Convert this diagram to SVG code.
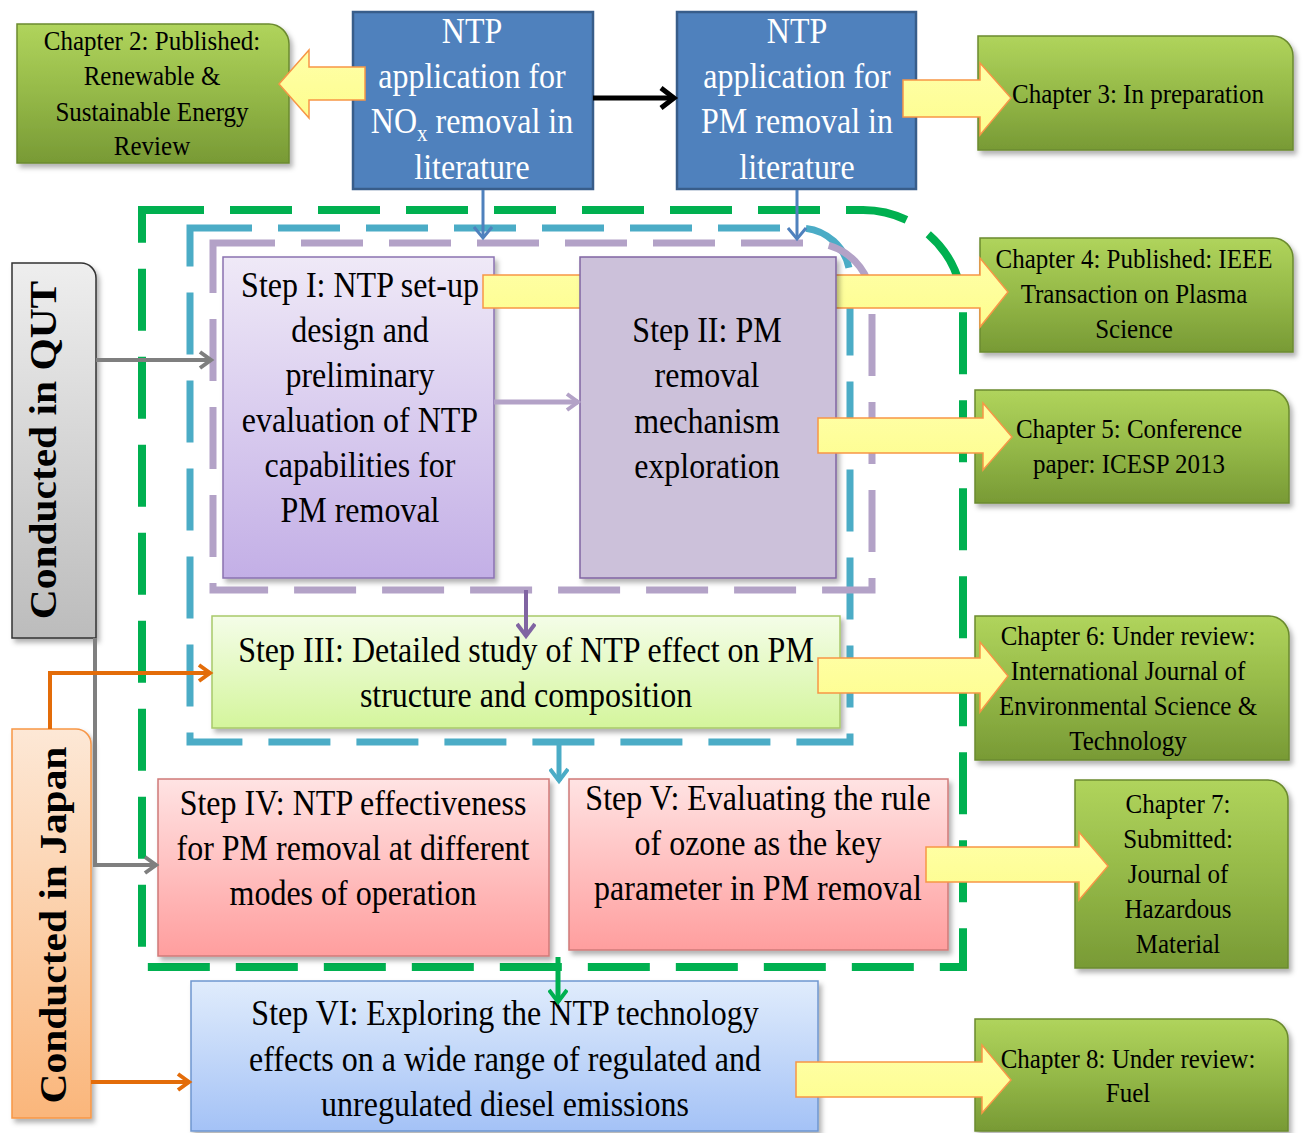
<svg xmlns="http://www.w3.org/2000/svg" width="1303" height="1133" viewBox="0 0 1303 1133">
<defs>
<style>
.t{font-family:"Liberation Serif","Times New Roman",serif;text-anchor:middle;fill:#000}
.s32{font-size:32px}
.c25{font-size:25px}
.w{fill:#fff}
.v{font-size:37px;font-weight:bold}
.chap{fill:url(#gChap);stroke:#6b8a2f;stroke-width:1.5;filter:url(#sh)}
.ya{fill:url(#gYel);stroke:#f79646;stroke-width:1.5}
.dash{fill:none;stroke-dasharray:62 26}
.con{fill:none}
</style>
<filter id="sh" x="-10%" y="-10%" width="125%" height="125%">
<feDropShadow dx="3" dy="4" stdDeviation="2.5" flood-color="#000" flood-opacity="0.3"/>
</filter>
<linearGradient id="gChap" x1="0" y1="0" x2="0" y2="1"><stop offset="0" stop-color="#b0d45c"/><stop offset="0.5" stop-color="#95b948"/><stop offset="1" stop-color="#789a35"/></linearGradient>
<linearGradient id="gQUT" x1="0" y1="0" x2="0" y2="1"><stop offset="0" stop-color="#eeeeee"/><stop offset="1" stop-color="#bcbcbc"/></linearGradient>
<linearGradient id="gJap" x1="0" y1="0" x2="0" y2="1"><stop offset="0" stop-color="#fde8d6"/><stop offset="1" stop-color="#fab67b"/></linearGradient>
<linearGradient id="gS1" x1="0" y1="0" x2="0" y2="1"><stop offset="0" stop-color="#efe9f7"/><stop offset="1" stop-color="#c3afe6"/></linearGradient>
<linearGradient id="gS3" x1="0" y1="0" x2="0" y2="1"><stop offset="0" stop-color="#f4fde8"/><stop offset="1" stop-color="#d4f59c"/></linearGradient>
<linearGradient id="gS45" x1="0" y1="0" x2="0" y2="1"><stop offset="0" stop-color="#ffe3e3"/><stop offset="1" stop-color="#ff9e9e"/></linearGradient>
<linearGradient id="gS6" x1="0" y1="0" x2="0" y2="1"><stop offset="0" stop-color="#e0ecfc"/><stop offset="1" stop-color="#a4c2f6"/></linearGradient>
<linearGradient id="gYel" x1="0" y1="0" x2="0" y2="1"><stop offset="0" stop-color="#ffffa8"/><stop offset="1" stop-color="#fdfd8e"/></linearGradient>
<marker id="ahBlack" viewBox="0 0 24 24" refX="18" refY="12" markerWidth="24" markerHeight="24" markerUnits="userSpaceOnUse" orient="auto"><path d="M5,2 L18,12 L5,22" fill="none" stroke="#000" stroke-width="5"/></marker>
<marker id="ahGray" viewBox="0 0 20 20" refX="16" refY="10" markerWidth="20" markerHeight="20" markerUnits="userSpaceOnUse" orient="auto"><path d="M5,2 L16,10 L5,18" fill="none" stroke="#7f7f7f" stroke-width="4"/></marker>
<marker id="ahOrange" viewBox="0 0 20 20" refX="16" refY="10" markerWidth="20" markerHeight="20" markerUnits="userSpaceOnUse" orient="auto"><path d="M5,2 L16,10 L5,18" fill="none" stroke="#e36c09" stroke-width="4"/></marker>
<marker id="ahLPurple" viewBox="0 0 20 20" refX="16" refY="10" markerWidth="20" markerHeight="20" markerUnits="userSpaceOnUse" orient="auto"><path d="M5,2 L16,10 L5,18" fill="none" stroke="#b3a2c7" stroke-width="4"/></marker>
<marker id="ahPurple" viewBox="0 0 20 20" refX="16" refY="10" markerWidth="20" markerHeight="20" markerUnits="userSpaceOnUse" orient="auto"><path d="M4,1 L16,10 L4,19" fill="none" stroke="#8064a2" stroke-width="4"/></marker>
<marker id="ahTeal" viewBox="0 0 20 20" refX="16" refY="10" markerWidth="20" markerHeight="20" markerUnits="userSpaceOnUse" orient="auto"><path d="M4,1 L16,10 L4,19" fill="none" stroke="#4bacc6" stroke-width="4"/></marker>
<marker id="ahGreen" viewBox="0 0 20 20" refX="16" refY="10" markerWidth="20" markerHeight="20" markerUnits="userSpaceOnUse" orient="auto"><path d="M4,1 L16,10 L4,19" fill="none" stroke="#00b050" stroke-width="4"/></marker>
<marker id="ahBlue" viewBox="0 0 20 20" refX="16" refY="10" markerWidth="20" markerHeight="20" markerUnits="userSpaceOnUse" orient="auto"><path d="M5,1 L16,10 L5,19" fill="none" stroke="#4f81bd" stroke-width="3"/></marker>
</defs>
<rect width="1303" height="1133" fill="#fff"/>

<g id="containers">
<path id="green-box" class="dash" d="M142,210 H863 A100,100 0 0 1 963,310 V967 H142 Z" stroke="#00b050" stroke-width="8"/>
<path id="teal-box" class="dash" d="M190,228 H800 A50,50 0 0 1 850,278 V742 H190 Z" stroke="#4bacc6" stroke-width="7"/>
<path id="purple-box" class="dash" d="M213,243 H812 A60,60 0 0 1 872,303 V590 H213 Z" stroke="#b3a2c7" stroke-width="7"/>
</g>

<g id="nodes">
<g id="qut">
<path d="M12,263 H81 A15,15 0 0 1 96,278 V638 H12 Z" fill="url(#gQUT)" stroke="#333" stroke-width="1.5" filter="url(#sh)"/>
<text class="t v" transform="translate(56,450) scale(1,1.12) rotate(-90)" x="0" y="0">Conducted in QUT</text>
</g>
<g id="japan">
<path d="M12,729 H76 A15,15 0 0 1 91,744 V1118 H12 Z" fill="url(#gJap)" stroke="#f79646" stroke-width="1.5" filter="url(#sh)"/>
<text class="t v" transform="translate(66,925) scale(1,1.12) rotate(-90)" x="0" y="0">Conducted in Japan</text>
</g>
<g id="ntp-nox">
<rect x="353" y="12" width="240" height="177" fill="#4f81bd" stroke="#385d8a" stroke-width="2.5"/>
<text class="t s32 w" transform="translate(472,43) scale(1,1.1)"><tspan x="0" y="0">NTP</tspan><tspan x="0" dy="41">application for</tspan><tspan x="0" dy="41">NO<tspan font-size="21" dy="7">x</tspan><tspan dy="-7"> removal in</tspan></tspan><tspan x="0" dy="42">literature</tspan></text>
</g>
<g id="ntp-pm">
<rect x="677" y="12" width="239" height="177" fill="#4f81bd" stroke="#385d8a" stroke-width="2.5"/>
<text class="t s32 w" transform="translate(797,43) scale(1,1.1)"><tspan x="0" y="0">NTP</tspan><tspan x="0" dy="41">application for</tspan><tspan x="0" dy="41">PM removal in</tspan><tspan x="0" dy="42">literature</tspan></text>
</g>
<g id="chapter2">
<path class="chap" d="M17,24 H269 A20,20 0 0 1 289,44 V163 H17 Z"/>
<text class="t c25" transform="translate(152,50) scale(1,1.1)"><tspan x="0" y="0">Chapter 2: Published:</tspan><tspan x="0" dy="31.8">Renewable  &amp;</tspan><tspan x="0" dy="32.5">Sustainable Energy</tspan><tspan x="0" dy="31">Review</tspan></text>
</g>
<g id="chapter3">
<path class="chap" d="M978,36 H1273 A20,20 0 0 1 1293,56 V150 H978 Z"/>
<text class="t c25" transform="translate(1138,103) scale(1,1.1)"><tspan x="0" y="0">Chapter 3: In preparation</tspan></text>
</g>
<g id="chapter4">
<path class="chap" d="M980,238 H1273 A20,20 0 0 1 1293,258 V352 H980 Z"/>
<text class="t c25" transform="translate(1134,268) scale(1,1.1)"><tspan x="0" y="0">Chapter 4: Published: IEEE</tspan><tspan x="0" dy="31.5">Transaction on Plasma</tspan><tspan x="0" dy="32.5">Science</tspan></text>
</g>
<g id="chapter5">
<path class="chap" d="M975,390 H1269 A20,20 0 0 1 1289,410 V503 H975 Z"/>
<text class="t c25" transform="translate(1129,438) scale(1,1.1)"><tspan x="0" y="0">Chapter 5: Conference</tspan><tspan x="0" dy="31.8">paper: ICESP 2013</tspan></text>
</g>
<g id="chapter6">
<path class="chap" d="M975,616 H1269 A20,20 0 0 1 1289,636 V760 H975 Z"/>
<text class="t c25" transform="translate(1128,645) scale(1,1.1)"><tspan x="0" y="0">Chapter 6: Under review:</tspan><tspan x="0" dy="31.8">International  Journal of</tspan><tspan x="0" dy="31.8">Environmental  Science &amp;</tspan><tspan x="0" dy="31.8">Technology</tspan></text>
</g>
<g id="chapter7">
<path class="chap" d="M1075,780 H1268 A20,20 0 0 1 1288,800 V968 H1075 Z"/>
<text class="t c25" transform="translate(1178,813) scale(1,1.1)"><tspan x="0" y="0">Chapter 7:</tspan><tspan x="0" dy="31.8">Submitted:</tspan><tspan x="0" dy="31.8">Journal of</tspan><tspan x="0" dy="31.8">Hazardous</tspan><tspan x="0" dy="31.8">Material</tspan></text>
</g>
<g id="chapter8">
<path class="chap" d="M975,1019 H1268 A20,20 0 0 1 1288,1039 V1131 H975 Z"/>
<text class="t c25" transform="translate(1128,1068) scale(1,1.1)"><tspan x="0" y="0">Chapter 8: Under review:</tspan><tspan x="0" dy="31">Fuel</tspan></text>
</g>
<g id="step1">
<rect x="223" y="257" width="271" height="321" fill="url(#gS1)" stroke="#8a72b0" stroke-width="1.5" filter="url(#sh)"/>
<text class="t s32" transform="translate(360,297) scale(1,1.1)"><tspan x="0" y="0">Step I: NTP set-up</tspan><tspan x="0" dy="40.9">design and</tspan><tspan x="0" dy="40.9">preliminary</tspan><tspan x="0" dy="40.9">evaluation of NTP</tspan><tspan x="0" dy="40.9">capabilities for</tspan><tspan x="0" dy="40.9">PM removal</tspan></text>
</g>
<g id="step3">
<rect x="212" y="616" width="628" height="112" fill="url(#gS3)" stroke="#a8c96a" stroke-width="1.5" filter="url(#sh)"/>
<text class="t s32" transform="translate(526,662) scale(1,1.1)"><tspan x="0" y="0">Step III: Detailed study of NTP effect on PM</tspan><tspan x="0" dy="40.9">structure and composition</tspan></text>
</g>
<g id="step4">
<rect x="158" y="779" width="391" height="177" fill="url(#gS45)" stroke="#d07a78" stroke-width="1.5" filter="url(#sh)"/>
<text class="t s32" transform="translate(353,815) scale(1,1.1)"><tspan x="0" y="0">Step IV: NTP effectiveness</tspan><tspan x="0" dy="40.9">for PM removal at different</tspan><tspan x="0" dy="40.9">modes of operation</tspan></text>
</g>
<g id="step5">
<rect x="569" y="779" width="379" height="171" fill="url(#gS45)" stroke="#d07a78" stroke-width="1.5" filter="url(#sh)"/>
<text class="t s32" transform="translate(758,810) scale(1,1.1)"><tspan x="0" y="0">Step V: Evaluating the rule</tspan><tspan x="0" dy="40.9">of ozone as the key</tspan><tspan x="0" dy="40.9">parameter in PM removal</tspan></text>
</g>
<g id="step6">
<rect x="191" y="981" width="627" height="150" fill="url(#gS6)" stroke="#6f96cf" stroke-width="1.5" filter="url(#sh)"/>
<text class="t s32" transform="translate(505,1025) scale(1,1.1)"><tspan x="0" y="0">Step VI: Exploring the NTP technology</tspan><tspan x="0" dy="42">effects on a wide range of regulated and</tspan><tspan x="0" dy="41">unregulated diesel emissions</tspan></text>
</g>
</g>

<g id="connectors">
<g id="arrow-ch4">
<path d="M483,275 H581 V308 H483 Z M836,275 H980 V258 L1008,292 L980,327 V308 H836 Z" fill="url(#gYel)"/>
<path d="M581,275 H483 V308 H581 M836,275 H980 V258 L1008,292 L980,327 V308 H836" fill="none" stroke="#f79646" stroke-width="1.5"/>
</g>
<g id="step2">
<rect x="580" y="257" width="256" height="321" fill="#ccc1da" stroke="#8064a2" stroke-width="1.5" filter="url(#sh)"/>
<text class="t s32" transform="translate(707,342) scale(1,1.1)"><tspan x="0" y="0">Step II: PM</tspan><tspan x="0" dy="40.9">removal</tspan><tspan x="0" dy="41.5">mechanism</tspan><tspan x="0" dy="40.9">exploration</tspan></text>
</g>
<path id="arrow-ch2" class="ya" d="M365,67 H309 V50 L279,84 L309,118 V100 H365 Z"/>
<path id="arrow-ch3" class="ya" d="M903,80 H980 V63 L1011,98 L980,135 V117 H903 Z"/>
<path id="arrow-ch5" class="ya" d="M818,418 H983 V403 L1012,437 L983,470 V453 H818 Z"/>
<path id="arrow-ch6" class="ya" d="M818,658 H980 V642 L1008,676 L980,712 V693 H818 Z"/>
<path id="arrow-ch7" class="ya" d="M926,847 H1079 V832 L1108,866 L1079,900 V882 H926 Z"/>
<path id="arrow-ch8" class="ya" d="M796,1062 H982 V1045 L1011,1080 L982,1113 V1097 H796 Z"/>
<path class="con" d="M593,98 H674" stroke="#000" stroke-width="5" marker-end="url(#ahBlack)"/>
<path class="con" d="M483,190 V238" stroke="#4f81bd" stroke-width="3" marker-end="url(#ahBlue)"/>
<path class="con" d="M797,190 V239" stroke="#4f81bd" stroke-width="3" marker-end="url(#ahBlue)"/>
<path class="con" d="M96,360 H211" stroke="#7f7f7f" stroke-width="4" marker-end="url(#ahGray)"/>
<path class="con" d="M95,638 V865 H156" stroke="#7f7f7f" stroke-width="4" marker-end="url(#ahGray)"/>
<path class="con" d="M50,729 V673 H210" stroke="#e36c09" stroke-width="4" marker-end="url(#ahOrange)"/>
<path class="con" d="M91,1082 H189" stroke="#e36c09" stroke-width="4" marker-end="url(#ahOrange)"/>
<path class="con" d="M494,402 H578" stroke="#b3a2c7" stroke-width="5" marker-end="url(#ahLPurple)"/>
<path class="con" d="M526,590 V636" stroke="#8064a2" stroke-width="4" marker-end="url(#ahPurple)"/>
<path class="con" d="M559,742 V781" stroke="#4bacc6" stroke-width="5" marker-end="url(#ahTeal)"/>
<path class="con" d="M558,957 V1002" stroke="#00b050" stroke-width="5" marker-end="url(#ahGreen)"/>
</g>
</svg>
